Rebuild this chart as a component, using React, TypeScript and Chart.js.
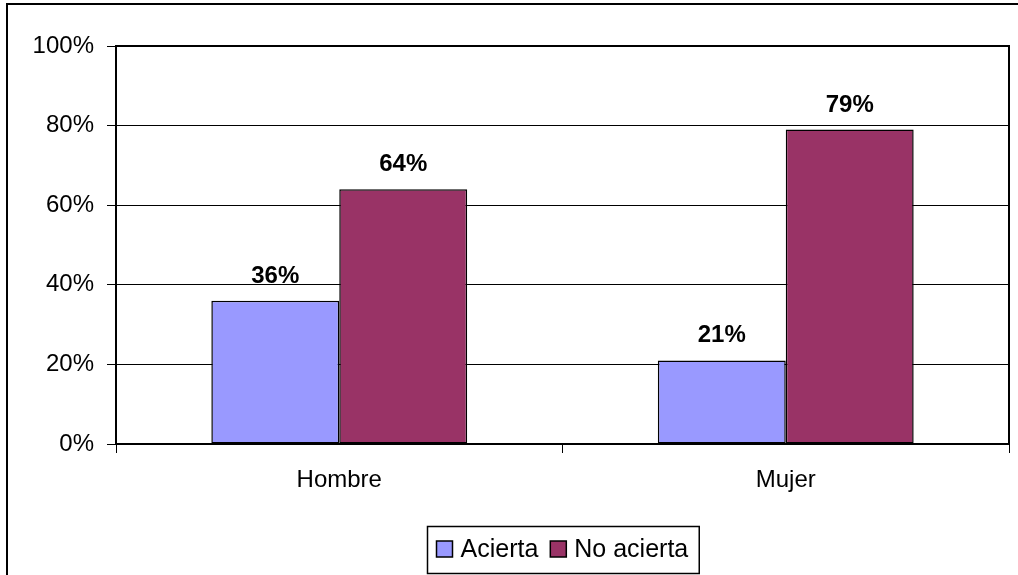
import React, { useEffect, useRef } from "react";
import { Chart, registerables } from "chart.js";

Chart.register(...registerables);

const categories = ["Hombre", "Mujer"];
const seriesNames = ["Acierta", "No acierta"];
const aciertaValues = [36, 21];
const noAciertaValues = [64, 79];
const seriesColors = ["#9999FF", "#993366"];
const yMin = 0;
const yMax = 100;
const yStep = 20;

const FONT = "'Liberation Sans', Arial, Helvetica, sans-serif";

const framePlugin = {
  id: "outerFrame",
  beforeDraw(chart: any) {
    const ctx = chart.ctx;
    ctx.save();
    ctx.fillStyle = "#ffffff";
    ctx.fillRect(0, 0, chart.width, chart.height);
    ctx.strokeStyle = "#000000";
    ctx.lineWidth = 2;
    ctx.strokeRect(7, 4, chart.width + 20, chart.height + 20);
    ctx.restore();
  },
};

const plotBorderPlugin = {
  id: "plotBorder",
  afterDraw(chart: any) {
    const { ctx, chartArea } = chart;
    ctx.save();
    ctx.strokeStyle = "#000000";
    ctx.lineWidth = 2;
    ctx.strokeRect(
      chartArea.left,
      chartArea.top,
      chartArea.right - chartArea.left,
      chartArea.bottom - chartArea.top
    );
    ctx.restore();
  },
};

const dataLabelPlugin = {
  id: "dataLabels",
  afterDatasetsDraw(chart: any) {
    const ctx = chart.ctx;
    ctx.save();
    ctx.font = `bold 24px ${FONT}`;
    ctx.fillStyle = "#000000";
    ctx.textAlign = "center";
    ctx.textBaseline = "alphabetic";
    chart.data.datasets.forEach((ds: any, i: number) => {
      const meta = chart.getDatasetMeta(i);
      meta.data.forEach((el: any, j: number) => {
        ctx.fillText(`${ds.data[j]}%`, el.x, el.y - 18);
      });
    });
    ctx.restore();
  },
};

const legendPlugin = {
  id: "boxedLegend",
  afterDraw(chart: any) {
    const { ctx, chartArea } = chart;
    const datasets = chart.data.datasets;
    ctx.save();
    ctx.font = `25px ${FONT}`;
    const padL = 9;
    const padR = 11;
    const box = 16;
    const gapBoxText = 8;
    const gapItems = 12;
    const widths = datasets.map((d: any) => ctx.measureText(d.label).width);
    let total = padL + padR;
    widths.forEach((w: number, i: number) => {
      total += box + gapBoxText + w + (i < widths.length - 1 ? gapItems : 0);
    });
    const cx = (chartArea.left + chartArea.right) / 2;
    const left = Math.round(cx - total / 2) + 0.5;
    const top = 526.5;
    const h = 47;
    ctx.strokeStyle = "#000000";
    ctx.lineWidth = 1.5;
    ctx.strokeRect(left, top, total, h);
    const midY = top + h / 2 - 1;
    let x = left + padL;
    datasets.forEach((d: any, i: number) => {
      ctx.fillStyle = d.backgroundColor;
      ctx.fillRect(x, midY - box / 2, box, box);
      ctx.strokeStyle = "#000000";
      ctx.lineWidth = 1.5;
      ctx.strokeRect(x, midY - box / 2, box, box);
      x += box + gapBoxText;
      ctx.fillStyle = "#000000";
      ctx.textAlign = "left";
      ctx.textBaseline = "middle";
      ctx.fillText(d.label, x, midY + 1);
      x += widths[i] + gapItems;
    });
    ctx.restore();
  },
};

export default function App() {
  const canvasRef = useRef<HTMLCanvasElement | null>(null);

  useEffect(() => {
    if (!canvasRef.current) return;
    const chart = new Chart(canvasRef.current, {
      type: "bar",
      data: {
        labels: categories,
        datasets: [
          {
            label: seriesNames[0],
            data: aciertaValues,
            backgroundColor: seriesColors[0],
            borderColor: "#000000",
            borderWidth: 1.5,
            borderSkipped: false,
            barPercentage: 1,
            categoryPercentage: 0.573,
          },
          {
            label: seriesNames[1],
            data: noAciertaValues,
            backgroundColor: seriesColors[1],
            borderColor: "#000000",
            borderWidth: 1.5,
            borderSkipped: false,
            barPercentage: 1,
            categoryPercentage: 0.573,
          },
        ],
      },
      options: {
        responsive: false,
        animation: false,
        layout: { padding: { left: 0, top: 46, right: 9, bottom: 0 } },
        plugins: {
          legend: { display: false },
          tooltip: { enabled: false },
          title: { display: false },
        },
        scales: {
          x: {
            offset: true,
            grid: {
              offset: true,
              drawOnChartArea: false,
              drawTicks: true,
              tickLength: 9,
              color: "#000000",
              lineWidth: 1,
            },
            border: { display: true, color: "#000000", width: 2 },
            ticks: {
              color: "#000000",
              font: { family: FONT, size: 24 },
              padding: 13,
              maxRotation: 0,
            },
            afterFit(scale: any) {
              scale.height = 131;
            },
          },
          y: {
            min: yMin,
            max: yMax,
            grid: {
              color: "#000000",
              lineWidth: 1,
              tickLength: 9,
              drawTicks: true,
            },
            border: { display: true, color: "#000000", width: 2 },
            ticks: {
              stepSize: yStep,
              color: "#000000",
              font: { family: FONT, size: 24 },
              padding: 13,
              callback: (v: any) => `${v}%`,
            },
            afterFit(scale: any) {
              scale.width = 116;
            },
          },
        },
      },
      plugins: [framePlugin, plotBorderPlugin, dataLabelPlugin, legendPlugin],
    });
    return () => chart.destroy();
  }, []);

  return (
    <div style={{ position: "fixed", left: 0, top: 0, width: 1018, height: 575, background: "#fff" }}>
      <canvas ref={canvasRef} width={1018} height={575} />
    </div>
  );
}
